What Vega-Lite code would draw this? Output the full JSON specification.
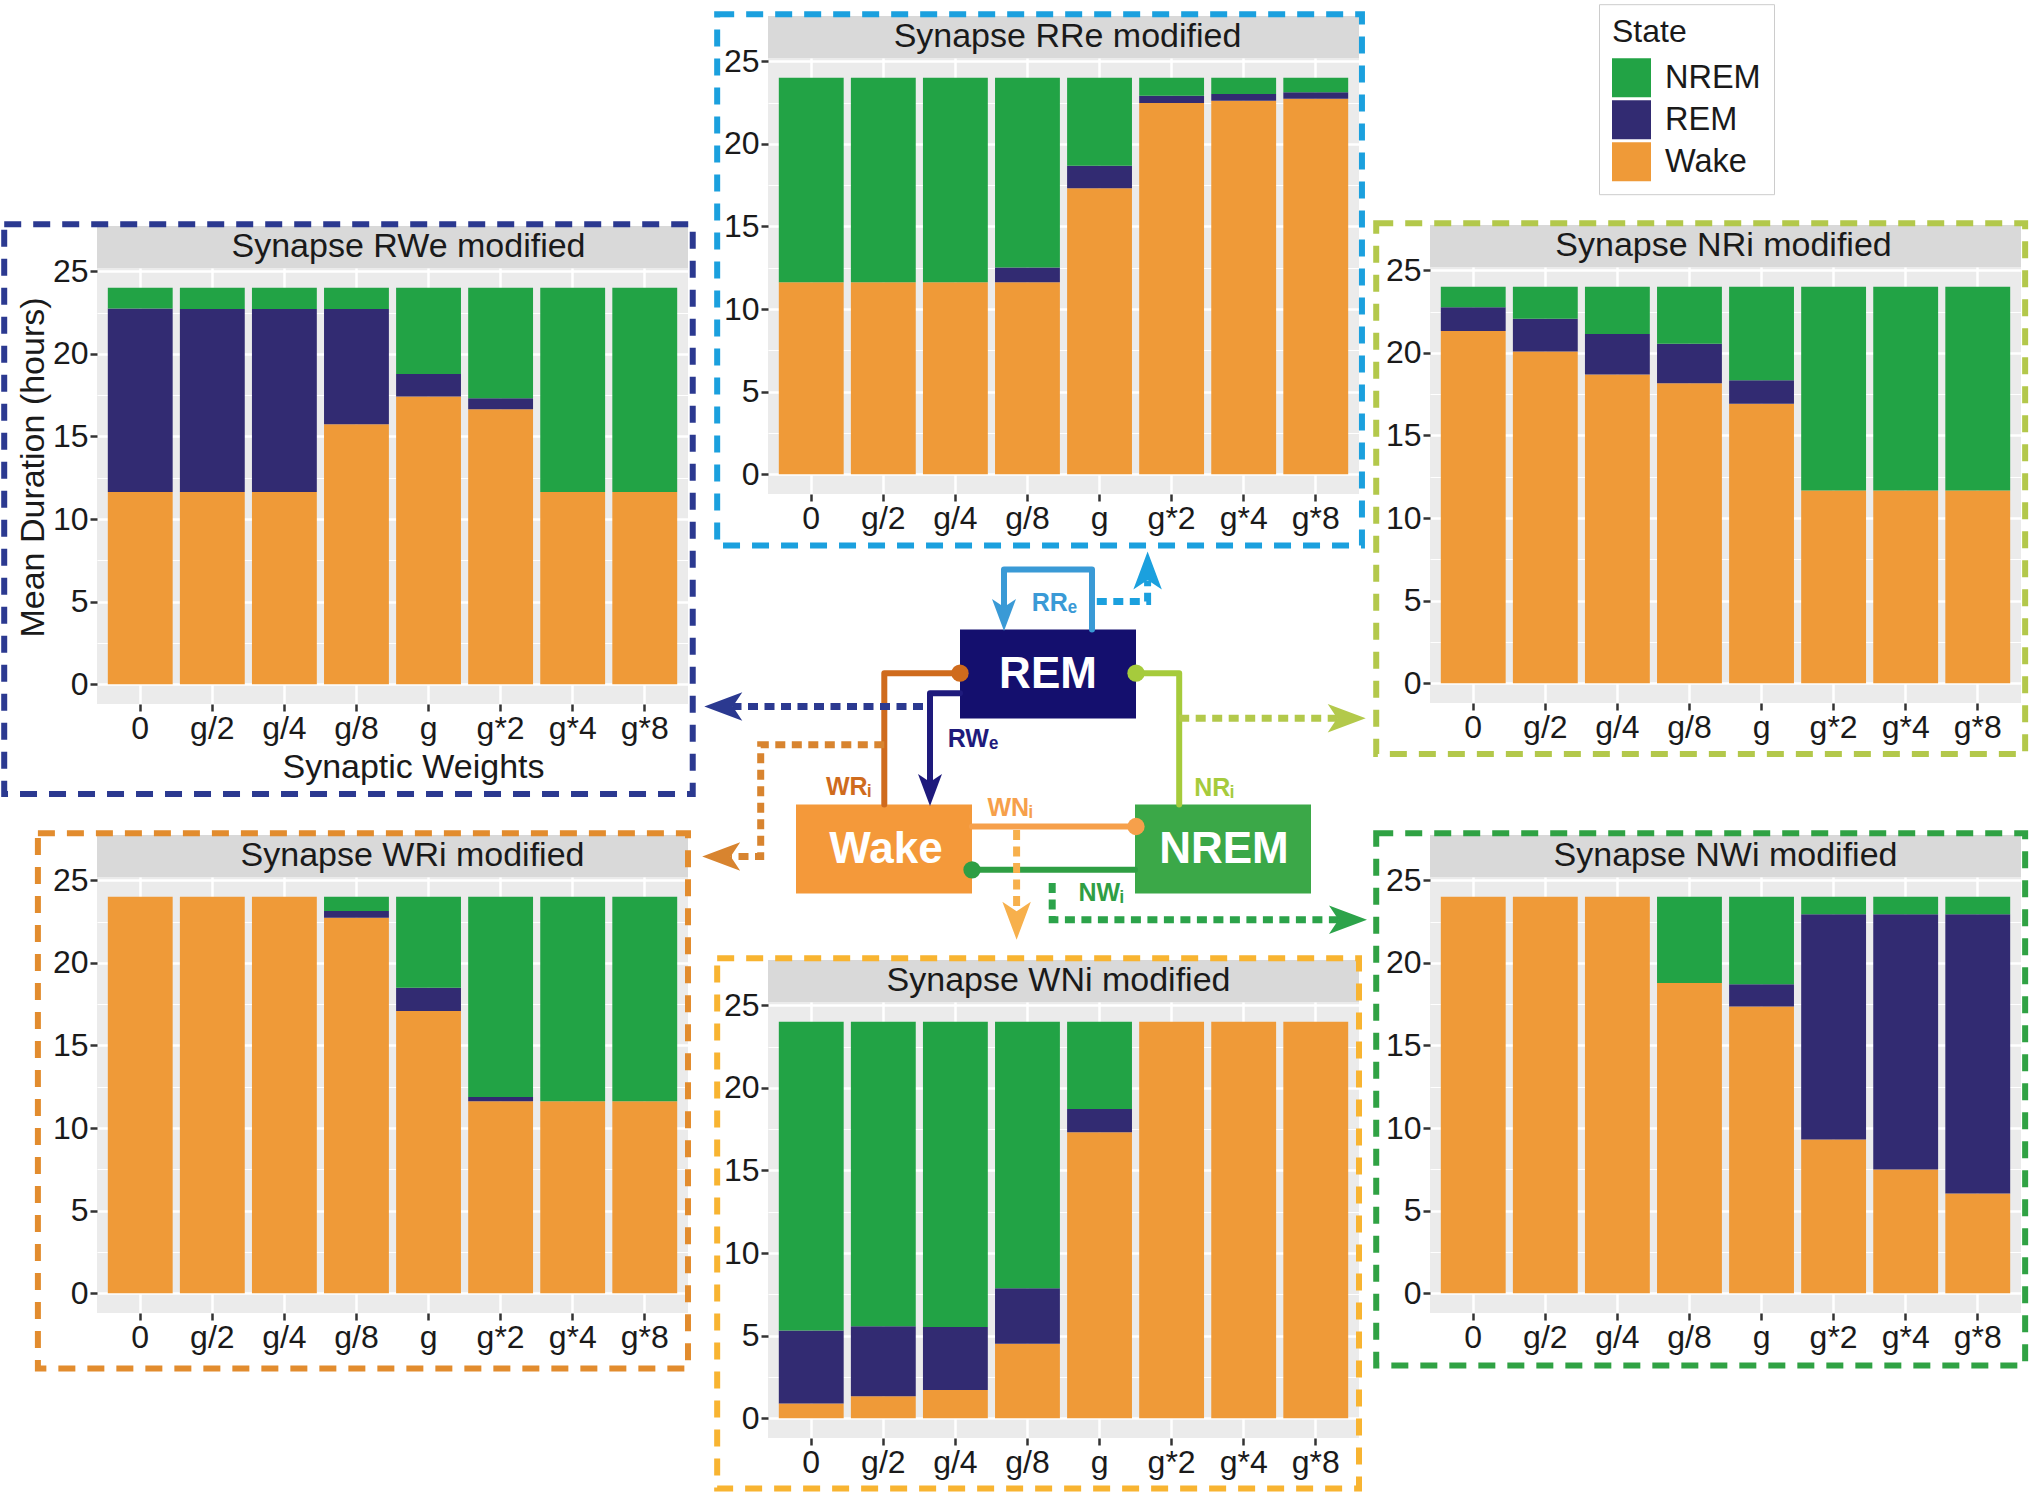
{
  "$schema": "https://vega.github.io/schema/vega-lite/v6.json",
  "background": "white",
  "padding": {"left": 1, "top": 3, "right": 0, "bottom": 0},
  "spacing": 6,
  "datasets": {
    "bars": [
      {"panel":"RWe","weight":"0","State":"Wake","hours":11.64},{"panel":"RWe","weight":"0","State":"REM","hours":11.11},{"panel":"RWe","weight":"0","State":"NREM","hours":1.25},
      {"panel":"RWe","weight":"g/2","State":"Wake","hours":11.64},{"panel":"RWe","weight":"g/2","State":"REM","hours":11.07},{"panel":"RWe","weight":"g/2","State":"NREM","hours":1.29},
      {"panel":"RWe","weight":"g/4","State":"Wake","hours":11.64},{"panel":"RWe","weight":"g/4","State":"REM","hours":11.07},{"panel":"RWe","weight":"g/4","State":"NREM","hours":1.29},
      {"panel":"RWe","weight":"g/8","State":"Wake","hours":15.74},{"panel":"RWe","weight":"g/8","State":"REM","hours":6.97},{"panel":"RWe","weight":"g/8","State":"NREM","hours":1.29},
      {"panel":"RWe","weight":"g","State":"Wake","hours":17.42},{"panel":"RWe","weight":"g","State":"REM","hours":1.36},{"panel":"RWe","weight":"g","State":"NREM","hours":5.22},
      {"panel":"RWe","weight":"g*2","State":"Wake","hours":16.65},{"panel":"RWe","weight":"g*2","State":"REM","hours":0.66},{"panel":"RWe","weight":"g*2","State":"NREM","hours":6.69},
      {"panel":"RWe","weight":"g*4","State":"Wake","hours":11.64},{"panel":"RWe","weight":"g*4","State":"NREM","hours":12.36},
      {"panel":"RWe","weight":"g*8","State":"Wake","hours":11.64},{"panel":"RWe","weight":"g*8","State":"NREM","hours":12.36},

      {"panel":"RRe","weight":"0","State":"Wake","hours":11.62},{"panel":"RRe","weight":"0","State":"NREM","hours":12.38},
      {"panel":"RRe","weight":"g/2","State":"Wake","hours":11.62},{"panel":"RRe","weight":"g/2","State":"NREM","hours":12.38},
      {"panel":"RRe","weight":"g/4","State":"Wake","hours":11.62},{"panel":"RRe","weight":"g/4","State":"NREM","hours":12.38},
      {"panel":"RRe","weight":"g/8","State":"Wake","hours":11.62},{"panel":"RRe","weight":"g/8","State":"REM","hours":0.9},{"panel":"RRe","weight":"g/8","State":"NREM","hours":11.48},
      {"panel":"RRe","weight":"g","State":"Wake","hours":17.32},{"panel":"RRe","weight":"g","State":"REM","hours":1.35},{"panel":"RRe","weight":"g","State":"NREM","hours":5.33},
      {"panel":"RRe","weight":"g*2","State":"Wake","hours":22.48},{"panel":"RRe","weight":"g*2","State":"REM","hours":0.43},{"panel":"RRe","weight":"g*2","State":"NREM","hours":1.09},
      {"panel":"RRe","weight":"g*4","State":"Wake","hours":22.61},{"panel":"RRe","weight":"g*4","State":"REM","hours":0.41},{"panel":"RRe","weight":"g*4","State":"NREM","hours":0.98},
      {"panel":"RRe","weight":"g*8","State":"Wake","hours":22.74},{"panel":"RRe","weight":"g*8","State":"REM","hours":0.39},{"panel":"RRe","weight":"g*8","State":"NREM","hours":0.87},

      {"panel":"NRi","weight":"0","State":"Wake","hours":21.33},{"panel":"NRi","weight":"0","State":"REM","hours":1.43},{"panel":"NRi","weight":"0","State":"NREM","hours":1.24},
      {"panel":"NRi","weight":"g/2","State":"Wake","hours":20.08},{"panel":"NRi","weight":"g/2","State":"REM","hours":1.99},{"panel":"NRi","weight":"g/2","State":"NREM","hours":1.93},
      {"panel":"NRi","weight":"g/4","State":"Wake","hours":18.69},{"panel":"NRi","weight":"g/4","State":"REM","hours":2.45},{"panel":"NRi","weight":"g/4","State":"NREM","hours":2.86},
      {"panel":"NRi","weight":"g/8","State":"Wake","hours":18.16},{"panel":"NRi","weight":"g/8","State":"REM","hours":2.39},{"panel":"NRi","weight":"g/8","State":"NREM","hours":3.45},
      {"panel":"NRi","weight":"g","State":"Wake","hours":16.92},{"panel":"NRi","weight":"g","State":"REM","hours":1.43},{"panel":"NRi","weight":"g","State":"NREM","hours":5.65},
      {"panel":"NRi","weight":"g*2","State":"Wake","hours":11.67},{"panel":"NRi","weight":"g*2","State":"NREM","hours":12.33},
      {"panel":"NRi","weight":"g*4","State":"Wake","hours":11.67},{"panel":"NRi","weight":"g*4","State":"NREM","hours":12.33},
      {"panel":"NRi","weight":"g*8","State":"Wake","hours":11.67},{"panel":"NRi","weight":"g*8","State":"NREM","hours":12.33},

      {"panel":"WRi","weight":"0","State":"Wake","hours":24},
      {"panel":"WRi","weight":"g/2","State":"Wake","hours":24},
      {"panel":"WRi","weight":"g/4","State":"Wake","hours":24},
      {"panel":"WRi","weight":"g/8","State":"Wake","hours":22.74},{"panel":"WRi","weight":"g/8","State":"REM","hours":0.4},{"panel":"WRi","weight":"g/8","State":"NREM","hours":0.86},
      {"panel":"WRi","weight":"g","State":"Wake","hours":17.09},{"panel":"WRi","weight":"g","State":"REM","hours":1.41},{"panel":"WRi","weight":"g","State":"NREM","hours":5.5},
      {"panel":"WRi","weight":"g*2","State":"Wake","hours":11.62},{"panel":"WRi","weight":"g*2","State":"REM","hours":0.26},{"panel":"WRi","weight":"g*2","State":"NREM","hours":12.12},
      {"panel":"WRi","weight":"g*4","State":"Wake","hours":11.62},{"panel":"WRi","weight":"g*4","State":"NREM","hours":12.38},
      {"panel":"WRi","weight":"g*8","State":"Wake","hours":11.62},{"panel":"WRi","weight":"g*8","State":"NREM","hours":12.38},

      {"panel":"WNi","weight":"0","State":"Wake","hours":0.89},{"panel":"WNi","weight":"0","State":"REM","hours":4.42},{"panel":"WNi","weight":"0","State":"NREM","hours":18.69},
      {"panel":"WNi","weight":"g/2","State":"Wake","hours":1.33},{"panel":"WNi","weight":"g/2","State":"REM","hours":4.23},{"panel":"WNi","weight":"g/2","State":"NREM","hours":18.44},
      {"panel":"WNi","weight":"g/4","State":"Wake","hours":1.71},{"panel":"WNi","weight":"g/4","State":"REM","hours":3.81},{"panel":"WNi","weight":"g/4","State":"NREM","hours":18.48},
      {"panel":"WNi","weight":"g/8","State":"Wake","hours":4.5},{"panel":"WNi","weight":"g/8","State":"REM","hours":3.37},{"panel":"WNi","weight":"g/8","State":"NREM","hours":16.13},
      {"panel":"WNi","weight":"g","State":"Wake","hours":17.32},{"panel":"WNi","weight":"g","State":"REM","hours":1.4},{"panel":"WNi","weight":"g","State":"NREM","hours":5.28},
      {"panel":"WNi","weight":"g*2","State":"Wake","hours":24},
      {"panel":"WNi","weight":"g*4","State":"Wake","hours":24},
      {"panel":"WNi","weight":"g*8","State":"Wake","hours":24},

      {"panel":"NWi","weight":"0","State":"Wake","hours":24},
      {"panel":"NWi","weight":"g/2","State":"Wake","hours":24},
      {"panel":"NWi","weight":"g/4","State":"Wake","hours":24},
      {"panel":"NWi","weight":"g/8","State":"Wake","hours":18.78},{"panel":"NWi","weight":"g/8","State":"NREM","hours":5.22},
      {"panel":"NWi","weight":"g","State":"Wake","hours":17.36},{"panel":"NWi","weight":"g","State":"REM","hours":1.35},{"panel":"NWi","weight":"g","State":"NREM","hours":5.29},
      {"panel":"NWi","weight":"g*2","State":"Wake","hours":9.3},{"panel":"NWi","weight":"g*2","State":"REM","hours":13.65},{"panel":"NWi","weight":"g*2","State":"NREM","hours":1.05},
      {"panel":"NWi","weight":"g*4","State":"Wake","hours":7.49},{"panel":"NWi","weight":"g*4","State":"REM","hours":15.46},{"panel":"NWi","weight":"g*4","State":"NREM","hours":1.05},
      {"panel":"NWi","weight":"g*8","State":"Wake","hours":6.03},{"panel":"NWi","weight":"g*8","State":"REM","hours":16.92},{"panel":"NWi","weight":"g*8","State":"NREM","hours":1.05}
    ],
    "boxes": [
      {"node":"REM","x1":19.2,"x2":36.8,"y1":8.05,"y2":16.95,"cx":28.0,"cy":12.55},
      {"node":"Wake","x1":2.8,"x2":20.4,"y1":25.55,"y2":34.45,"cx":11.8,"cy":30.05},
      {"node":"NREM","x1":36.7,"x2":54.3,"y1":25.55,"y2":34.45,"cx":45.6,"cy":30.05}
    ],
    "links": [
      {"key":"RRe","kind":"solid","i":0,"x":32.4,"y":8.05},{"key":"RRe","kind":"solid","i":1,"x":32.4,"y":2.05},{"key":"RRe","kind":"solid","i":2,"x":23.6,"y":2.05},{"key":"RRe","kind":"solid","i":3,"x":23.6,"y":5.85},
      {"key":"RWe","kind":"solid","i":0,"x":19.2,"y":14.42},{"key":"RWe","kind":"solid","i":1,"x":16.2,"y":14.42},{"key":"RWe","kind":"solid","i":2,"x":16.2,"y":23.35},
      {"key":"WRi","kind":"solid","i":0,"x":11.63,"y":25.55},{"key":"WRi","kind":"solid","i":1,"x":11.63,"y":12.42},{"key":"WRi","kind":"solid","i":2,"x":19.2,"y":12.42},
      {"key":"NRi","kind":"solid","i":0,"x":41.12,"y":25.55},{"key":"NRi","kind":"solid","i":1,"x":41.12,"y":12.42},{"key":"NRi","kind":"solid","i":2,"x":36.8,"y":12.42},
      {"key":"WNi","kind":"solid","i":0,"x":20.4,"y":27.75},{"key":"WNi","kind":"solid","i":1,"x":36.8,"y":27.75},
      {"key":"NWi","kind":"solid","i":0,"x":36.7,"y":32.08},{"key":"NWi","kind":"solid","i":1,"x":20.4,"y":32.08},
      {"key":"RRe panel","kind":"dotted","i":0,"x":32.88,"y":5.25},{"key":"RRe panel","kind":"dotted","i":1,"x":37.96,"y":5.25},{"key":"RRe panel","kind":"dotted","i":2,"x":37.96,"y":3.15},
      {"key":"RWe panel","kind":"dotted","i":0,"x":15.5,"y":15.75},{"key":"RWe panel","kind":"dotted","i":1,"x":-3.5,"y":15.75},
      {"key":"WRi panel","kind":"dotted","i":0,"x":11.63,"y":19.58},{"key":"WRi panel","kind":"dotted","i":1,"x":-0.73,"y":19.58},{"key":"WRi panel","kind":"dotted","i":2,"x":-0.73,"y":30.75},{"key":"WRi panel","kind":"dotted","i":3,"x":-3.7,"y":30.75},
      {"key":"NRi panel","kind":"dotted","i":0,"x":41.12,"y":16.92},{"key":"NRi panel","kind":"dotted","i":1,"x":56.95,"y":16.92},
      {"key":"WNi panel","kind":"dotted","i":0,"x":24.86,"y":28.1},{"key":"WNi panel","kind":"dotted","i":1,"x":24.86,"y":36.25},
      {"key":"NWi panel","kind":"dotted","i":0,"x":28.42,"y":33.4},{"key":"NWi panel","kind":"dotted","i":1,"x":28.42,"y":37.08},{"key":"NWi panel","kind":"dotted","i":2,"x":57.1,"y":37.08}
    ],
    "heads": [
      {"key":"RRe","kind":"solid","dir":"down","x":23.6,"y":6.6},
      {"key":"RWe","kind":"solid","dir":"down","x":16.2,"y":24.1},
      {"key":"RRe panel","kind":"dotted","dir":"up","x":37.96,"y":2.15},
      {"key":"RWe panel","kind":"dotted","dir":"left","x":-4.47,"y":15.75},
      {"key":"WRi panel","kind":"dotted","dir":"left","x":-4.68,"y":30.75},
      {"key":"NRi panel","kind":"dotted","dir":"right","x":57.87,"y":16.92},
      {"key":"WNi panel","kind":"dotted","dir":"down","x":24.86,"y":37.18},
      {"key":"NWi panel","kind":"dotted","dir":"right","x":58.0,"y":37.08}
    ],
    "circles": [
      {"key":"WRi","x":19.2,"y":12.42},
      {"key":"NRi","x":36.8,"y":12.42},
      {"key":"WNi","x":36.8,"y":27.75},
      {"key":"NWi","x":20.4,"y":32.08}
    ],
    "labels": [
      {"key":"RRe","t":"RRₑ","x":28.65,"y":5.35},
      {"key":"RWe","t":"RWₑ","x":20.5,"y":18.95},
      {"key":"WRi","t":"WRᵢ","x":8.05,"y":23.75},
      {"key":"NRi","t":"NRᵢ","x":44.6,"y":23.85},
      {"key":"WNi","t":"WNᵢ","x":24.2,"y":25.85},
      {"key":"NWi","t":"NWᵢ","x":33.3,"y":34.35}
    ]
  },
  "hconcat": [
    {
      "spacing": 32,
      "vconcat": [
        {"width": 10, "height": 131, "data": {"values": [{}]}, "mark": {"type": "rect", "opacity": 0}, "encoding": {}},
        {
          "width": 591, "height": 436,
          "view": {"fill": "#EBEBEB", "stroke": null},
          "resolve": {"scale": {"x": "independent"}, "axis": {"y": "independent"}},
          "layer": [
            {"data": {"name": "bars"}, "transform": [{"filter": "datum.panel === 'RWe'"}],
             "mark": {"type": "bar"},
             "encoding": {
               "x": {"field": "weight", "type": "nominal", "sort": ["0","g/2","g/4","g/8","g","g*2","g*4","g*8"], "scale": {"paddingInner": 0.1, "paddingOuter": 0.15}, "axis": {"title": "Synaptic Weights", "titleX": 316, "labelAngle": 0, "bandPosition": 0.5}},
               "y": {"field": "hours", "type": "quantitative", "stack": "zero", "scale": {"domain": [-1.2, 25.2], "nice": false, "zero": false}, "axis": {"values": [0,5,10,15,20,25], "title": "Mean Duration (hours)", "titleY": 199}},
               "color": {"field": "State", "type": "nominal", "scale": {"domain": ["NREM","REM","Wake"], "range": ["#22A345","#322B72","#EF9A38"]}, "legend": {"orient": "none", "legendX": 1502, "legendY": -53.8}},
               "order": {"field": "State", "sort": "descending"}
             }},
            {"data": {"values": [{}]}, "mark": {"type": "rect", "color": "#D9D9D9"},
             "encoding": {"y": {"datum": 27.75, "type": "quantitative", "scale": {"domain": [-1.2, 25.2], "nice": false, "zero": false}, "axis": {"orient": "right", "values": [2.5,7.5,12.5,17.5,22.5], "labels": false, "ticks": false, "domain": false, "grid": true, "gridColor": "#FFFFFF", "gridWidth": 1.2, "title": null}}, "y2": {"datum": 25.2}}},
            {"data": {"values": [{"label": "Synapse RWe modified"}]}, "mark": {"type": "text", "fontSize": 34, "color": "#1A1A1A", "baseline": "middle", "dx": 16},
             "encoding": {"y": {"datum": 26.45, "type": "quantitative", "scale": {"domain": [-1.2, 25.2], "nice": false, "zero": false}, "axis": null}, "text": {"field": "label"}}},
            {"data": {"values": [{}]}, "mark": {"type": "rect", "fillOpacity": 0, "stroke": "#2B3990", "strokeWidth": 6, "strokeDash": [17, 12]},
             "encoding": {"x": {"datum": -0.157, "type": "quantitative", "scale": {"domain": [0, 1], "nice": false, "zero": false}, "axis": null}, "x2": {"datum": 1.008}, "y": {"datum": 27.85, "type": "quantitative", "scale": {"domain": [-1.2, 25.2], "nice": false, "zero": false}, "axis": null}, "y2": {"datum": -6.65}}}
          ]
        },
        {
          "width": 591, "height": 436,
          "view": {"fill": "#EBEBEB", "stroke": null},
          "resolve": {"scale": {"x": "independent"}, "axis": {"y": "independent"}},
          "layer": [
            {"data": {"name": "bars"}, "transform": [{"filter": "datum.panel === 'WRi'"}],
             "mark": {"type": "bar"},
             "encoding": {
               "x": {"field": "weight", "type": "nominal", "sort": ["0","g/2","g/4","g/8","g","g*2","g*4","g*8"], "scale": {"paddingInner": 0.1, "paddingOuter": 0.15}, "axis": {"title": null, "labelAngle": 0, "bandPosition": 0.5}},
               "y": {"field": "hours", "type": "quantitative", "stack": "zero", "scale": {"domain": [-1.2, 25.2], "nice": false, "zero": false}, "axis": {"values": [0,5,10,15,20,25], "title": null}},
               "color": {"field": "State", "type": "nominal", "scale": {"domain": ["NREM","REM","Wake"], "range": ["#22A345","#322B72","#EF9A38"]}, "legend": {"orient": "none", "legendX": 1502, "legendY": -53.8}},
               "order": {"field": "State", "sort": "descending"}
             }},
            {"data": {"values": [{}]}, "mark": {"type": "rect", "color": "#D9D9D9"},
             "encoding": {"y": {"datum": 27.75, "type": "quantitative", "scale": {"domain": [-1.2, 25.2], "nice": false, "zero": false}, "axis": {"orient": "right", "values": [2.5,7.5,12.5,17.5,22.5], "labels": false, "ticks": false, "domain": false, "grid": true, "gridColor": "#FFFFFF", "gridWidth": 1.2, "title": null}}, "y2": {"datum": 25.2}}},
            {"data": {"values": [{"label": "Synapse WRi modified"}]}, "mark": {"type": "text", "fontSize": 34, "color": "#1A1A1A", "baseline": "middle", "dx": 20},
             "encoding": {"y": {"datum": 26.45, "type": "quantitative", "scale": {"domain": [-1.2, 25.2], "nice": false, "zero": false}, "axis": null}, "text": {"field": "label"}}},
            {"data": {"values": [{}]}, "mark": {"type": "rect", "fillOpacity": 0, "stroke": "#E28C2E", "strokeWidth": 6, "strokeDash": [17, 12]},
             "encoding": {"x": {"datum": -0.1, "type": "quantitative", "scale": {"domain": [0, 1], "nice": false, "zero": false}, "axis": null}, "x2": {"datum": 1.0}, "y": {"datum": 27.85, "type": "quantitative", "scale": {"domain": [-1.2, 25.2], "nice": false, "zero": false}, "axis": null}, "y2": {"datum": -4.56}}}
          ]
        }
      ]
    },
    {
      "spacing": 0,
      "vconcat": [
        {
          "width": 591, "height": 436,
          "view": {"fill": "#EBEBEB", "stroke": null},
          "resolve": {"scale": {"x": "independent"}, "axis": {"y": "independent"}},
          "layer": [
            {"data": {"name": "bars"}, "transform": [{"filter": "datum.panel === 'RRe'"}],
             "mark": {"type": "bar"},
             "encoding": {
               "x": {"field": "weight", "type": "nominal", "sort": ["0","g/2","g/4","g/8","g","g*2","g*4","g*8"], "scale": {"paddingInner": 0.1, "paddingOuter": 0.15}, "axis": {"title": null, "labelAngle": 0, "bandPosition": 0.5}},
               "y": {"field": "hours", "type": "quantitative", "stack": "zero", "scale": {"domain": [-1.2, 25.2], "nice": false, "zero": false}, "axis": {"values": [0,5,10,15,20,25], "title": null}},
               "color": {"field": "State", "type": "nominal", "scale": {"domain": ["NREM","REM","Wake"], "range": ["#22A345","#322B72","#EF9A38"]}, "legend": {"orient": "none", "legendX": 1502, "legendY": -53.8}},
               "order": {"field": "State", "sort": "descending"}
             }},
            {"data": {"values": [{}]}, "mark": {"type": "rect", "color": "#D9D9D9"},
             "encoding": {"y": {"datum": 27.75, "type": "quantitative", "scale": {"domain": [-1.2, 25.2], "nice": false, "zero": false}, "axis": {"orient": "right", "values": [2.5,7.5,12.5,17.5,22.5], "labels": false, "ticks": false, "domain": false, "grid": true, "gridColor": "#FFFFFF", "gridWidth": 1.2, "title": null}}, "y2": {"datum": 25.2}}},
            {"data": {"values": [{"label": "Synapse RRe modified"}]}, "mark": {"type": "text", "fontSize": 34, "color": "#1A1A1A", "baseline": "middle", "dx": 4},
             "encoding": {"y": {"datum": 26.45, "type": "quantitative", "scale": {"domain": [-1.2, 25.2], "nice": false, "zero": false}, "axis": null}, "text": {"field": "label"}}},
            {"data": {"values": [{}]}, "mark": {"type": "rect", "fillOpacity": 0, "stroke": "#1BA0DE", "strokeWidth": 6, "strokeDash": [17, 12]},
             "encoding": {"x": {"datum": -0.086, "type": "quantitative", "scale": {"domain": [0, 1], "nice": false, "zero": false}, "axis": null}, "x2": {"datum": 1.005}, "y": {"datum": 27.85, "type": "quantitative", "scale": {"domain": [-1.2, 25.2], "nice": false, "zero": false}, "axis": null}, "y2": {"datum": -4.32}}}
          ]
        },
        {
          "width": 591, "height": 406,
          "view": {"stroke": null},
          "layer": [
            {"data": {"name": "boxes"}, "mark": {"type": "rect"},
             "encoding": {
               "x": {"field": "x1", "type": "quantitative", "scale": {"domain": [0, 59.1], "nice": false, "zero": false}, "axis": null},
               "x2": {"field": "x2"},
               "y": {"field": "y1", "type": "quantitative", "scale": {"domain": [0, 40.6], "nice": false, "zero": false, "reverse": true}, "axis": null},
               "y2": {"field": "y2"},
               "fill": {"field": "node", "type": "nominal", "legend": null, "scale": {"domain": ["REM","Wake","NREM","RRe","RWe","WRi","NRi","WNi","NWi","RRe panel","RWe panel","WRi panel","NRi panel","WNi panel","NWi panel"], "range": ["#140F6E","#F4993A","#3BA848","#3A9AD6","#1E1A7C","#CF6B1D","#A6CB3C","#F6A04B","#2F9E44","#1BA0DE","#2B3990","#D8842F","#B3C94B","#F7B04C","#2CA34A"]}}
             }},
            {"data": {"name": "links"}, "transform": [{"filter": "datum.kind === 'solid'"}],
             "mark": {"type": "line", "strokeWidth": 6, "strokeCap": "round", "strokeJoin": "round"},
             "encoding": {
               "x": {"field": "x", "type": "quantitative", "scale": {"domain": [0, 59.1], "nice": false, "zero": false}, "axis": null},
               "y": {"field": "y", "type": "quantitative", "scale": {"domain": [0, 40.6], "nice": false, "zero": false, "reverse": true}, "axis": null},
               "detail": {"field": "key"},
               "order": {"field": "i", "type": "quantitative"},
               "stroke": {"field": "key", "type": "nominal", "legend": null, "scale": {"domain": ["REM","Wake","NREM","RRe","RWe","WRi","NRi","WNi","NWi","RRe panel","RWe panel","WRi panel","NRi panel","WNi panel","NWi panel"], "range": ["#140F6E","#F4993A","#3BA848","#3A9AD6","#1E1A7C","#CF6B1D","#A6CB3C","#F6A04B","#2F9E44","#1BA0DE","#2B3990","#D8842F","#B3C94B","#F7B04C","#2CA34A"]}}
             }},
            {"data": {"name": "links"}, "transform": [{"filter": "datum.kind === 'dotted'"}],
             "mark": {"type": "line", "strokeWidth": 7, "strokeDash": [10, 6.5], "strokeCap": "butt"},
             "encoding": {
               "x": {"field": "x", "type": "quantitative", "scale": {"domain": [0, 59.1], "nice": false, "zero": false}, "axis": null},
               "y": {"field": "y", "type": "quantitative", "scale": {"domain": [0, 40.6], "nice": false, "zero": false, "reverse": true}, "axis": null},
               "detail": {"field": "key"},
               "order": {"field": "i", "type": "quantitative"},
               "stroke": {"field": "key", "type": "nominal", "legend": null, "scale": {"domain": ["REM","Wake","NREM","RRe","RWe","WRi","NRi","WNi","NWi","RRe panel","RWe panel","WRi panel","NRi panel","WNi panel","NWi panel"], "range": ["#140F6E","#F4993A","#3BA848","#3A9AD6","#1E1A7C","#CF6B1D","#A6CB3C","#F6A04B","#2F9E44","#1BA0DE","#2B3990","#D8842F","#B3C94B","#F7B04C","#2CA34A"]}}
             }},
            {"data": {"name": "heads"}, "transform": [{"filter": "datum.kind === 'solid'"}],
             "mark": {"type": "point", "filled": true, "opacity": 1, "size": 1024, "strokeWidth": 0},
             "encoding": {
               "x": {"field": "x", "type": "quantitative", "scale": {"domain": [0, 59.1], "nice": false, "zero": false}, "axis": null},
               "y": {"field": "y", "type": "quantitative", "scale": {"domain": [0, 40.6], "nice": false, "zero": false, "reverse": true}, "axis": null},
               "shape": {"field": "dir", "type": "nominal", "legend": null, "scale": {"domain": ["up","down","left","right"], "range": ["M0,-1L0.75,1L0,0.5L-0.75,1Z","M0,1L0.75,-1L0,-0.5L-0.75,-1Z","M-1,0L1,0.75L0.5,0L1,-0.75Z","M1,0L-1,0.75L-0.5,0L-1,-0.75Z"]}},
               "fill": {"field": "key", "type": "nominal", "legend": null, "scale": {"domain": ["REM","Wake","NREM","RRe","RWe","WRi","NRi","WNi","NWi","RRe panel","RWe panel","WRi panel","NRi panel","WNi panel","NWi panel"], "range": ["#140F6E","#F4993A","#3BA848","#3A9AD6","#1E1A7C","#CF6B1D","#A6CB3C","#F6A04B","#2F9E44","#1BA0DE","#2B3990","#D8842F","#B3C94B","#F7B04C","#2CA34A"]}}
             }},
            {"data": {"name": "heads"}, "transform": [{"filter": "datum.kind === 'dotted'"}],
             "mark": {"type": "point", "filled": true, "opacity": 1, "size": 1444, "strokeWidth": 0},
             "encoding": {
               "x": {"field": "x", "type": "quantitative", "scale": {"domain": [0, 59.1], "nice": false, "zero": false}, "axis": null},
               "y": {"field": "y", "type": "quantitative", "scale": {"domain": [0, 40.6], "nice": false, "zero": false, "reverse": true}, "axis": null},
               "shape": {"field": "dir", "type": "nominal", "legend": null, "scale": {"domain": ["up","down","left","right"], "range": ["M0,-1L0.75,1L0,0.5L-0.75,1Z","M0,1L0.75,-1L0,-0.5L-0.75,-1Z","M-1,0L1,0.75L0.5,0L1,-0.75Z","M1,0L-1,0.75L-0.5,0L-1,-0.75Z"]}},
               "fill": {"field": "key", "type": "nominal", "legend": null, "scale": {"domain": ["REM","Wake","NREM","RRe","RWe","WRi","NRi","WNi","NWi","RRe panel","RWe panel","WRi panel","NRi panel","WNi panel","NWi panel"], "range": ["#140F6E","#F4993A","#3BA848","#3A9AD6","#1E1A7C","#CF6B1D","#A6CB3C","#F6A04B","#2F9E44","#1BA0DE","#2B3990","#D8842F","#B3C94B","#F7B04C","#2CA34A"]}}
             }},
            {"data": {"name": "circles"},
             "mark": {"type": "point", "shape": "circle", "filled": true, "opacity": 1, "size": 300, "strokeWidth": 0},
             "encoding": {
               "x": {"field": "x", "type": "quantitative", "scale": {"domain": [0, 59.1], "nice": false, "zero": false}, "axis": null},
               "y": {"field": "y", "type": "quantitative", "scale": {"domain": [0, 40.6], "nice": false, "zero": false, "reverse": true}, "axis": null},
               "fill": {"field": "key", "type": "nominal", "legend": null, "scale": {"domain": ["REM","Wake","NREM","RRe","RWe","WRi","NRi","WNi","NWi","RRe panel","RWe panel","WRi panel","NRi panel","WNi panel","NWi panel"], "range": ["#140F6E","#F4993A","#3BA848","#3A9AD6","#1E1A7C","#CF6B1D","#A6CB3C","#F6A04B","#2F9E44","#1BA0DE","#2B3990","#D8842F","#B3C94B","#F7B04C","#2CA34A"]}}
             }},
            {"data": {"name": "boxes"},
             "mark": {"type": "text", "color": "#FFFFFF", "fontWeight": "bold", "fontSize": 44, "baseline": "middle", "font": "Liberation Sans"},
             "encoding": {
               "x": {"field": "cx", "type": "quantitative", "scale": {"domain": [0, 59.1], "nice": false, "zero": false}, "axis": null},
               "y": {"field": "cy", "type": "quantitative", "scale": {"domain": [0, 40.6], "nice": false, "zero": false, "reverse": true}, "axis": null},
               "text": {"field": "node"}
             }},
            {"data": {"name": "labels"},
             "mark": {"type": "text", "fontWeight": "bold", "fontSize": 25, "baseline": "middle"},
             "encoding": {
               "x": {"field": "x", "type": "quantitative", "scale": {"domain": [0, 59.1], "nice": false, "zero": false}, "axis": null},
               "y": {"field": "y", "type": "quantitative", "scale": {"domain": [0, 40.6], "nice": false, "zero": false, "reverse": true}, "axis": null},
               "text": {"field": "t"},
               "fill": {"field": "key", "type": "nominal", "legend": null, "scale": {"domain": ["REM","Wake","NREM","RRe","RWe","WRi","NRi","WNi","NWi","RRe panel","RWe panel","WRi panel","NRi panel","WNi panel","NWi panel"], "range": ["#140F6E","#F4993A","#3BA848","#3A9AD6","#1E1A7C","#CF6B1D","#A6CB3C","#F6A04B","#2F9E44","#1BA0DE","#2B3990","#D8842F","#B3C94B","#F7B04C","#2CA34A"]}}
             }}
          ]
        },
        {
          "width": 591, "height": 436,
          "view": {"fill": "#EBEBEB", "stroke": null},
          "resolve": {"scale": {"x": "independent"}, "axis": {"y": "independent"}},
          "layer": [
            {"data": {"name": "bars"}, "transform": [{"filter": "datum.panel === 'WNi'"}],
             "mark": {"type": "bar"},
             "encoding": {
               "x": {"field": "weight", "type": "nominal", "sort": ["0","g/2","g/4","g/8","g","g*2","g*4","g*8"], "scale": {"paddingInner": 0.1, "paddingOuter": 0.15}, "axis": {"title": null, "labelAngle": 0, "bandPosition": 0.5}},
               "y": {"field": "hours", "type": "quantitative", "stack": "zero", "scale": {"domain": [-1.2, 25.2], "nice": false, "zero": false}, "axis": {"values": [0,5,10,15,20,25], "title": null}},
               "color": {"field": "State", "type": "nominal", "scale": {"domain": ["NREM","REM","Wake"], "range": ["#22A345","#322B72","#EF9A38"]}, "legend": {"orient": "none", "legendX": 1502, "legendY": -53.8}},
               "order": {"field": "State", "sort": "descending"}
             }},
            {"data": {"values": [{}]}, "mark": {"type": "rect", "color": "#D9D9D9"},
             "encoding": {"y": {"datum": 27.75, "type": "quantitative", "scale": {"domain": [-1.2, 25.2], "nice": false, "zero": false}, "axis": {"orient": "right", "values": [2.5,7.5,12.5,17.5,22.5], "labels": false, "ticks": false, "domain": false, "grid": true, "gridColor": "#FFFFFF", "gridWidth": 1.2, "title": null}}, "y2": {"datum": 25.2}}},
            {"data": {"values": [{"label": "Synapse WNi modified"}]}, "mark": {"type": "text", "fontSize": 34, "color": "#1A1A1A", "baseline": "middle", "dx": -5},
             "encoding": {"y": {"datum": 26.45, "type": "quantitative", "scale": {"domain": [-1.2, 25.2], "nice": false, "zero": false}, "axis": null}, "text": {"field": "label"}}},
            {"data": {"values": [{}]}, "mark": {"type": "rect", "fillOpacity": 0, "stroke": "#F8B431", "strokeWidth": 6, "strokeDash": [17, 12]},
             "encoding": {"x": {"datum": -0.086, "type": "quantitative", "scale": {"domain": [0, 1], "nice": false, "zero": false}, "axis": null}, "x2": {"datum": 1.0}, "y": {"datum": 27.85, "type": "quantitative", "scale": {"domain": [-1.2, 25.2], "nice": false, "zero": false}, "axis": null}, "y2": {"datum": -4.26}}}
          ]
        }
      ]
    },
    {
      "spacing": 72,
      "vconcat": [
        {"width": 10, "height": 90, "data": {"values": [{}]}, "mark": {"type": "rect", "opacity": 0}, "encoding": {}},
        {
          "width": 591, "height": 436,
          "view": {"fill": "#EBEBEB", "stroke": null},
          "resolve": {"scale": {"x": "independent"}, "axis": {"y": "independent"}},
          "layer": [
            {"data": {"name": "bars"}, "transform": [{"filter": "datum.panel === 'NRi'"}],
             "mark": {"type": "bar"},
             "encoding": {
               "x": {"field": "weight", "type": "nominal", "sort": ["0","g/2","g/4","g/8","g","g*2","g*4","g*8"], "scale": {"paddingInner": 0.1, "paddingOuter": 0.15}, "axis": {"title": null, "labelAngle": 0, "bandPosition": 0.5}},
               "y": {"field": "hours", "type": "quantitative", "stack": "zero", "scale": {"domain": [-1.2, 25.2], "nice": false, "zero": false}, "axis": {"values": [0,5,10,15,20,25], "title": null}},
               "color": {"field": "State", "type": "nominal", "scale": {"domain": ["NREM","REM","Wake"], "range": ["#22A345","#322B72","#EF9A38"]}, "legend": {"orient": "none", "legendX": 1502, "legendY": -53.8}},
               "order": {"field": "State", "sort": "descending"}
             }},
            {"data": {"values": [{}]}, "mark": {"type": "rect", "color": "#D9D9D9"},
             "encoding": {"y": {"datum": 27.75, "type": "quantitative", "scale": {"domain": [-1.2, 25.2], "nice": false, "zero": false}, "axis": {"orient": "right", "values": [2.5,7.5,12.5,17.5,22.5], "labels": false, "ticks": false, "domain": false, "grid": true, "gridColor": "#FFFFFF", "gridWidth": 1.2, "title": null}}, "y2": {"datum": 25.2}}},
            {"data": {"values": [{"label": "Synapse NRi modified"}]}, "mark": {"type": "text", "fontSize": 34, "color": "#1A1A1A", "baseline": "middle", "dx": -2},
             "encoding": {"y": {"datum": 26.45, "type": "quantitative", "scale": {"domain": [-1.2, 25.2], "nice": false, "zero": false}, "axis": null}, "text": {"field": "label"}}},
            {"data": {"values": [{}]}, "mark": {"type": "rect", "fillOpacity": 0, "stroke": "#B3C84B", "strokeWidth": 6, "strokeDash": [17, 12]},
             "encoding": {"x": {"datum": -0.091, "type": "quantitative", "scale": {"domain": [0, 1], "nice": false, "zero": false}, "axis": null}, "x2": {"datum": 1.007}, "y": {"datum": 27.85, "type": "quantitative", "scale": {"domain": [-1.2, 25.2], "nice": false, "zero": false}, "axis": null}, "y2": {"datum": -4.29}}}
          ]
        },
        {
          "width": 591, "height": 436,
          "view": {"fill": "#EBEBEB", "stroke": null},
          "resolve": {"scale": {"x": "independent"}, "axis": {"y": "independent"}},
          "layer": [
            {"data": {"name": "bars"}, "transform": [{"filter": "datum.panel === 'NWi'"}],
             "mark": {"type": "bar"},
             "encoding": {
               "x": {"field": "weight", "type": "nominal", "sort": ["0","g/2","g/4","g/8","g","g*2","g*4","g*8"], "scale": {"paddingInner": 0.1, "paddingOuter": 0.15}, "axis": {"title": null, "labelAngle": 0, "bandPosition": 0.5}},
               "y": {"field": "hours", "type": "quantitative", "stack": "zero", "scale": {"domain": [-1.2, 25.2], "nice": false, "zero": false}, "axis": {"values": [0,5,10,15,20,25], "title": null}},
               "color": {"field": "State", "type": "nominal", "scale": {"domain": ["NREM","REM","Wake"], "range": ["#22A345","#322B72","#EF9A38"]}, "legend": {"orient": "none", "legendX": 1502, "legendY": -53.8}},
               "order": {"field": "State", "sort": "descending"}
             }},
            {"data": {"values": [{}]}, "mark": {"type": "rect", "color": "#D9D9D9"},
             "encoding": {"y": {"datum": 27.75, "type": "quantitative", "scale": {"domain": [-1.2, 25.2], "nice": false, "zero": false}, "axis": {"orient": "right", "values": [2.5,7.5,12.5,17.5,22.5], "labels": false, "ticks": false, "domain": false, "grid": true, "gridColor": "#FFFFFF", "gridWidth": 1.2, "title": null}}, "y2": {"datum": 25.2}}},
            {"data": {"values": [{"label": "Synapse NWi modified"}]}, "mark": {"type": "text", "fontSize": 34, "color": "#1A1A1A", "baseline": "middle"},
             "encoding": {"y": {"datum": 26.45, "type": "quantitative", "scale": {"domain": [-1.2, 25.2], "nice": false, "zero": false}, "axis": null}, "text": {"field": "label"}}},
            {"data": {"values": [{}]}, "mark": {"type": "rect", "fillOpacity": 0, "stroke": "#30A244", "strokeWidth": 6, "strokeDash": [17, 12]},
             "encoding": {"x": {"datum": -0.091, "type": "quantitative", "scale": {"domain": [0, 1], "nice": false, "zero": false}, "axis": null}, "x2": {"datum": 1.007}, "y": {"datum": 27.85, "type": "quantitative", "scale": {"domain": [-1.2, 25.2], "nice": false, "zero": false}, "axis": null}, "y2": {"datum": -4.38}}}
          ]
        }
      ]
    }
  ],
  "config": {
    "font": "Liberation Sans",
    "view": {"stroke": null},
    "axis": {
      "labelFontSize": 32, "labelColor": "#1A1A1A", "labelFont": "Liberation Sans",
      "titleFontSize": 34, "titleFontWeight": "normal", "titleColor": "#1A1A1A", "titleFont": "Liberation Sans",
      "tickColor": "#333333", "tickSize": 7, "tickWidth": 2.5,
      "domain": false, "grid": true, "gridColor": "#FFFFFF", "gridWidth": 2.5, "labelPadding": 2
    },
    "axisX": {"titlePadding": 6},
    "axisY": {"titlePadding": 2},
    "legend": {
      "titleFontSize": 32, "titleFontWeight": "normal", "titleColor": "#1A1A1A",
      "labelFontSize": 32.5, "labelColor": "#1A1A1A",
      "symbolType": "square", "symbolSize": 1521, "symbolStrokeWidth": 0, "symbolOpacity": 1,
      "rowPadding": 3, "labelOffset": 14, "padding": 13, "titlePadding": 9,
      "strokeColor": "#CCCCCC", "fillColor": "#FFFFFF"
    }
  }
}
